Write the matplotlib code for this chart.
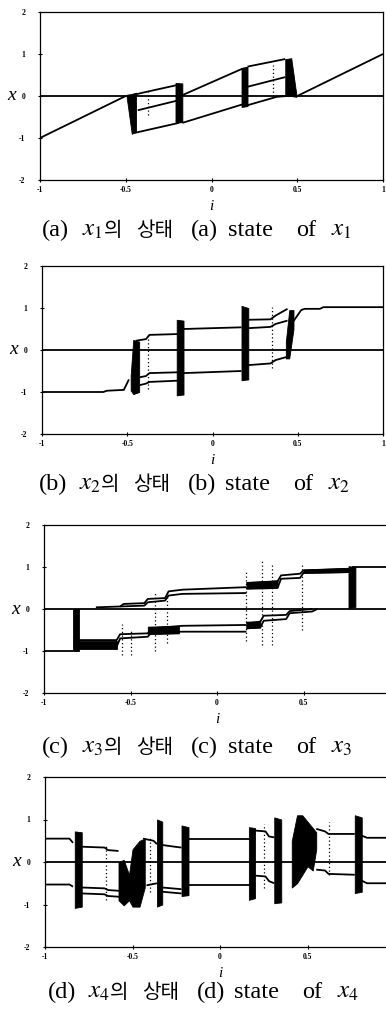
import matplotlib
matplotlib.use("Agg")
import matplotlib.pyplot as plt

plt.rcParams['mathtext.fontset'] = 'stix'

X_TICKS = [-1, -0.5, 0, 0.5, 1]
X_TICK_LABELS = ['-1', '-0.5', '0', '0.5', '1']
Y_TICKS = [-2, -1, 0, 1, 2]
Y_TICK_LABELS = ['-2', '-1', '0', '1', '2']
CAPTION_TAGS = ['(a)', '(b)', '(c)', '(d)']
CAPTION_SUBS = ['1', '2', '3', '4']

# state branches: (i values, x values)
X1_LINES = [
    ([-1, 1], [0, 0]),
    ([-1, -0.5], [-1, 0]),
    ([0.5, 1], [0, 1]),
    ([-0.45, -0.19], [-0.88, -0.64]),
    ([-0.43, -0.19], [-0.34, -0.1]),
    ([-0.45, -0.40, -0.19], [0.03, 0.08, 0.27]),
    ([-0.17, 0.18], [0.02, 0.65]),
    ([-0.17, 0.18], [-0.64, -0.2]),
    ([0.21, 0.43], [0.70, 0.88]),
    ([0.21, 0.43], [0.22, 0.45]),
    ([0.21, 0.38, 0.44], [-0.22, -0.02, 0.0]),
]
# dense chaotic bands: (i values, lower x, upper x)
X1_BANDS = [
    ([-0.495, -0.465, -0.44], [-0.02, -0.9, -0.85], [0.03, 0.05, 0.08]),
    ([-0.21, -0.17], [-0.64, -0.62], [0.31, 0.3]),
    ([0.175, 0.21], [-0.26, -0.24], [0.67, 0.7]),
    ([0.43, 0.465, 0.495], [0.0, 0.0, -0.02], [0.88, 0.9, 0.03]),
]
# sparse vertical scatter: (i, lower x, upper x)
X1_DOTS = [(-0.37, -0.45, 0.1), (0.36, 0.0, 0.75)]

X2_LINES = [
    ([-1, 1], [0, 0]),
    ([-1, -0.64, -0.62, -0.52, -0.49], [-1, -1, -0.97, -0.95, -0.7]),
    ([-0.45, -0.39, -0.37, -0.2], [0.22, 0.26, 0.36, 0.38]),
    ([-0.44, -0.39, -0.37, -0.2], [-0.66, -0.62, -0.55, -0.53]),
    ([-0.45, -0.39, -0.37, -0.2], [-0.86, -0.8, -0.76, -0.73]),
    ([-0.17, 0.17], [0.5, 0.54]),
    ([-0.17, 0.17], [-0.55, -0.5]),
    ([0.21, 0.34, 0.37, 0.44], [0.72, 0.73, 0.82, 0.98]),
    ([0.21, 0.34, 0.37, 0.44], [0.52, 0.55, 0.62, 0.7]),
    ([0.21, 0.34, 0.37, 0.44], [-0.36, -0.32, -0.24, -0.16]),
    ([0.46, 0.52, 0.54, 0.63, 0.65, 1], [0.6, 0.95, 0.98, 0.98, 1.02, 1.02]),
]
X2_BANDS = [
    ([-0.48, -0.465, -0.43], [-0.96, -1.05, -1.0], [-0.6, 0.24, 0.2]),
    ([-0.21, -0.17], [-1.08, -1.06], [0.72, 0.7]),
    ([0.17, 0.21], [-0.72, -0.7], [1.05, 1.0]),
    ([0.43, 0.45, 0.475], [-0.2, -0.2, 0.5], [0.2, 0.95, 0.95]),
]
X2_DOTS = [(-0.38, -0.92, 0.38), (0.35, -0.42, 1.02)]

X3_LINES = [
    ([-1, 1], [0, 0]),
    ([-1, -0.83], [-1, -1]),
    ([-0.8, -0.58, -0.56, -0.4, -0.38, -0.2, 0.17], [-0.74, -0.74, -0.6, -0.58, -0.46, -0.4, -0.38]),
    ([-0.8, -0.58, -0.56, -0.4, -0.38, -0.2, 0.17], [-0.9, -0.9, -0.7, -0.66, -0.56, -0.54, -0.54]),
    ([-0.7, -0.56, -0.54, -0.42, -0.4, -0.3, -0.28, -0.2, 0.17], [0.04, 0.06, 0.12, 0.14, 0.24, 0.26, 0.42, 0.46, 0.52]),
    ([-0.56, -0.42, -0.4, -0.3, -0.28, -0.2, 0.17], [0.06, 0.08, 0.16, 0.2, 0.32, 0.36, 0.38]),
    ([0.17, 0.35, 0.37, 0.48, 0.5, 0.78], [0.62, 0.66, 0.8, 0.84, 0.92, 0.96]),
    ([0.17, 0.35, 0.37, 0.48, 0.5, 0.78], [0.48, 0.5, 0.72, 0.74, 0.86, 0.88]),
    ([0.17, 0.25, 0.27, 0.4, 0.42, 0.55, 0.58], [-0.46, -0.44, -0.28, -0.24, -0.1, -0.06, 0.0]),
    ([0.17, 0.25, 0.27, 0.4, 0.42, 0.55], [-0.34, -0.3, -0.16, -0.14, -0.05, 0.0]),
    ([0.78, 1], [1.01, 1.01]),
]
X3_BANDS = [
    ([-0.835, -0.8], [-1, -1], [0, 0]),
    ([-0.8, -0.58], [-0.95, -0.95], [-0.76, -0.76]),
    ([-0.4, -0.22], [-0.6, -0.58], [-0.42, -0.4]),
    ([0.17, 0.35], [0.5, 0.52], [0.64, 0.68]),
    ([0.17, 0.25], [-0.46, -0.44], [-0.3, -0.3]),
    ([0.5, 0.78], [0.86, 0.88], [0.94, 0.98]),
    ([0.76, 0.8], [0.02, 0.05], [1.02, 1.0]),
]
X3_DOTS = [(-0.55, -1.1, -0.36), (-0.5, -1.1, -0.5), (-0.36, -1.0, 0.4), (-0.29, -0.8, 0.35),
           (0.17, -0.75, 0.9), (0.26, -0.85, 1.15), (0.32, -0.85, 1.1), (0.49, -0.5, 1.05)]

X4_LINES = [
    ([-1, 1], [0, 0]),
    ([-1, -0.86, -0.84], [0.55, 0.55, 0.45]),
    ([-0.79, -0.66, -0.64, -0.58], [0.36, 0.34, 0.28, 0.26]),
    ([-0.44, -0.38, -0.36], [0.55, 0.5, 0.42]),
    ([-0.33, -0.26, -0.22], [0.4, 0.36, 0.34]),
    ([-0.18, 0.17], [0.55, 0.55]),
    ([0.2, 0.26, 0.28, 0.31], [0.74, 0.72, 0.6, 0.58]),
    ([0.55, 0.6, 0.62, 0.77], [0.78, 0.72, 0.66, 0.66]),
    ([0.81, 0.84, 1], [0.62, 0.57, 0.57]),
    ([-1, -0.86, -0.84], [-0.53, -0.53, -0.58]),
    ([-0.79, -0.66, -0.64, -0.57], [-0.6, -0.62, -0.66, -0.68]),
    ([-0.79, -0.66, -0.64, -0.57], [-0.74, -0.76, -0.8, -0.82]),
    ([-0.42, -0.36], [-0.55, -0.5]),
    ([-0.33, -0.22], [-0.6, -0.64]),
    ([-0.33, -0.22], [-0.7, -0.74]),
    ([-0.18, 0.17], [-0.53, -0.53]),
    ([0.2, 0.26, 0.28, 0.31], [-0.32, -0.34, -0.45, -0.5]),
    ([0.55, 0.6, 0.62, 0.77], [-0.18, -0.2, -0.28, -0.3]),
    ([0.81, 0.84, 1], [-0.44, -0.5, -0.5]),
]
X4_BANDS = [
    ([-0.83, -0.79], [-1.08, -1.05], [0.72, 0.7]),
    ([-0.58, -0.55, -0.52, -0.5, -0.46, -0.43], [-0.9, -1.02, -0.9, -1.05, -1.05, -0.6],
     [0.0, 0.05, -0.3, 0.3, 0.5, 0.55]),
    ([-0.36, -0.33], [-1.05, -1.0], [1.0, 0.95]),
    ([-0.22, -0.18], [-0.8, -0.78], [0.86, 0.82]),
    ([0.165, 0.2], [-0.89, -0.85], [0.82, 0.8]),
    ([0.31, 0.35], [-0.97, -0.95], [1.05, 1.0]),
    ([0.41, 0.44, 0.47, 0.5, 0.53, 0.55], [-0.6, -0.5, -0.3, -0.1, -0.2, 0.3],
     [0.5, 1.1, 1.1, 0.95, 0.8, 0.7]),
    ([0.77, 0.81], [-0.73, -0.7], [1.1, 1.05]),
]
X4_DOTS = [(-0.65, -0.9, 0.4), (0.62, -0.3, 0.95), (-0.4, -0.7, 0.6), (0.25, -0.6, 0.9)]

PANELS = [
    (X1_LINES, X1_BANDS, X1_DOTS),
    (X2_LINES, X2_BANDS, X2_DOTS),
    (X3_LINES, X3_BANDS, X3_DOTS),
    (X4_LINES, X4_BANDS, X4_DOTS),
]

W, H = 386, 1017
fig = plt.figure(figsize=(W / 100, H / 100), dpi=100)
fig.patch.set_facecolor('white')

# axes boxes in pixels: left, top, width, height
boxes = [(40, 12, 343, 168), (42, 266, 341, 168), (44, 525, 346, 168), (45, 777, 350, 170)]
caption_base = [236, 490, 753, 998]
caption_shift = [0, -3, 0, 6]
# left edge (px) of each caption word
word_x = [42, 82, 104, 136, 191, 228, 296, 331]

tick_font = dict(family='Liberation Serif', weight='bold', size=5.5)

for k, ((lines, bands, dots), (l, t, w, h)) in enumerate(zip(PANELS, boxes)):
    ax = fig.add_axes([l / W, 1 - (t + h) / H, w / W, h / H])
    for xs, lo, hi in bands:
        ax.fill_between(xs, lo, hi, color='black', lw=0.6)
    for xs, ys in lines:
        ax.plot(xs, ys, color='black', lw=1.3, solid_capstyle='butt')
    for xv, y0, y1 in dots:
        ax.plot([xv, xv], [y0, y1], color='black', lw=0.9, ls=(0, (1, 2)))
    ax.set_xlim(-1, 1)
    ax.set_ylim(-2, 2)
    ax.set_xticks(X_TICKS)
    labels = list(X_TICK_LABELS)
    if l + w > W:
        labels[-1] = ''   # falls outside the page in the scan
    ax.set_xticklabels(labels, fontdict=tick_font)
    ax.set_yticks(Y_TICKS)
    ax.set_yticklabels(Y_TICK_LABELS, fontdict=tick_font)
    ax.tick_params(axis='both', direction='inout', length=3, width=0.8)
    ax.tick_params(axis='y', pad=9)
    ax.tick_params(axis='x', pad=3)
    for s in ax.spines.values():
        s.set_linewidth(0.9)
    ax.set_xlabel('i', fontstyle='italic', family='Liberation Serif', size=11, labelpad=4)
    ax.set_ylabel('x', fontstyle='italic', family='Liberation Serif', size=14, rotation=0,
                  va='center', ha='center')
    ax.yaxis.set_label_coords(-28 / w, 0.5)

serif = dict(family='Liberation Serif', size=17.5)
kr = dict(family='Noto Sans CJK KR', size=14.5)
mth = dict(size=18)
for tag, sub, yb, dx in zip(CAPTION_TAGS, CAPTION_SUBS, caption_base, caption_shift):
    xs = '$x_{' + sub + '}$'
    parts = [(tag, serif), (xs, mth), ('의', kr), ('상태', kr),
             (tag, serif), ('state', serif), ('of', serif), (xs, mth)]
    for (s, kw), px in zip(parts, word_x):
        fig.text((px + dx) / W, 1 - yb / H, s, va='baseline', ha='left', **kw)

fig.savefig('out.png', dpi=100)
